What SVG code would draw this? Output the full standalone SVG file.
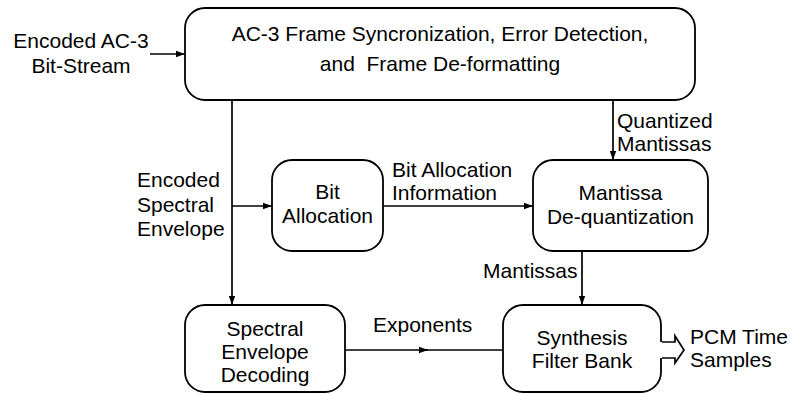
<svg xmlns="http://www.w3.org/2000/svg" width="791" height="394" viewBox="0 0 791 394">
<defs>
<style>
.box{fill:#fff;stroke:#000;stroke-width:1.8}
.ln{fill:none;stroke:#000;stroke-width:1.7}
text{font-family:"Liberation Sans",Arial,sans-serif;font-size:21px;fill:#000}
.c{text-anchor:middle}
.pre{white-space:pre}
</style>
<marker id="ah" markerWidth="10" markerHeight="8" refX="9" refY="4" orient="auto" markerUnits="userSpaceOnUse">
<path d="M0,0.8 L9,4 L0,7.2 Z" fill="#000"/>
</marker>
</defs>
<rect width="791" height="394" fill="#fff"/>
<g id="connectors">
<line class="ln" x1="150" y1="54" x2="185" y2="54" marker-end="url(#ah)"/>
<line class="ln" x1="232" y1="100" x2="232" y2="305" marker-end="url(#ah)"/>
<line class="ln" x1="232" y1="206" x2="272" y2="206" marker-end="url(#ah)"/>
<line class="ln" x1="383" y1="206" x2="533" y2="206" marker-end="url(#ah)"/>
<line class="ln" x1="613" y1="100" x2="613" y2="160" marker-end="url(#ah)"/>
<line class="ln" x1="582" y1="251" x2="582" y2="305" marker-end="url(#ah)"/>
<line class="ln" x1="345" y1="350" x2="428" y2="350" marker-end="url(#ah)"/>
<line class="ln" x1="425" y1="350" x2="503" y2="350"/>
<path class="ln" d="M662,342 H675 V336 L684,350 L675,363 V358 H662"/>
<text x="81" y="48" class="c">Encoded AC-3</text>
<text x="81" y="73" class="c">Bit-Stream</text>
<text x="137" y="187">Encoded</text>
<text x="137" y="212">Spectral</text>
<text x="137" y="236">Envelope</text>
<text x="392" y="177">Bit Allocation</text>
<text x="392" y="200">Information</text>
<text x="617" y="128">Quantized</text>
<text x="617" y="151">Mantissas</text>
<text x="483" y="278">Mantissas</text>
<text x="373" y="332">Exponents</text>
<text x="690" y="344">PCM Time</text>
<text x="690" y="367">Samples</text>
</g>
<g id="frame-sync">
<rect class="box" x="185" y="8" width="510" height="92" rx="20"/>
<text x="440" y="41" class="c">AC-3 Frame Syncronization, Error Detection,</text>
<text x="440" y="71" class="c pre">and  Frame De-formatting</text>
</g>
<g id="bit-allocation">
<rect class="box" x="272" y="160" width="111" height="91" rx="20"/>
<text x="327.5" y="199" class="c">Bit</text>
<text x="327.5" y="223" class="c">Allocation</text>
</g>
<g id="mantissa-dequant">
<rect class="box" x="533" y="160" width="175" height="91" rx="20"/>
<text x="620.5" y="200" class="c">Mantissa</text>
<text x="620.5" y="224" class="c">De-quantization</text>
</g>
<g id="spectral-envelope">
<rect class="box" x="185" y="305" width="160" height="87" rx="20"/>
<text x="265" y="336" class="c">Spectral</text>
<text x="265" y="359" class="c">Envelope</text>
<text x="265" y="382" class="c">Decoding</text>
</g>
<g id="synthesis">
<path class="box" d="M661,342 V325 A20,20 0 0 0 641,305 H523 A20,20 0 0 0 503,325 V372 A20,20 0 0 0 523,392 H641 A20,20 0 0 0 661,372 V358"/>
<text x="582" y="345" class="c">Synthesis</text>
<text x="582" y="368" class="c">Filter Bank</text>
</g>
</svg>
